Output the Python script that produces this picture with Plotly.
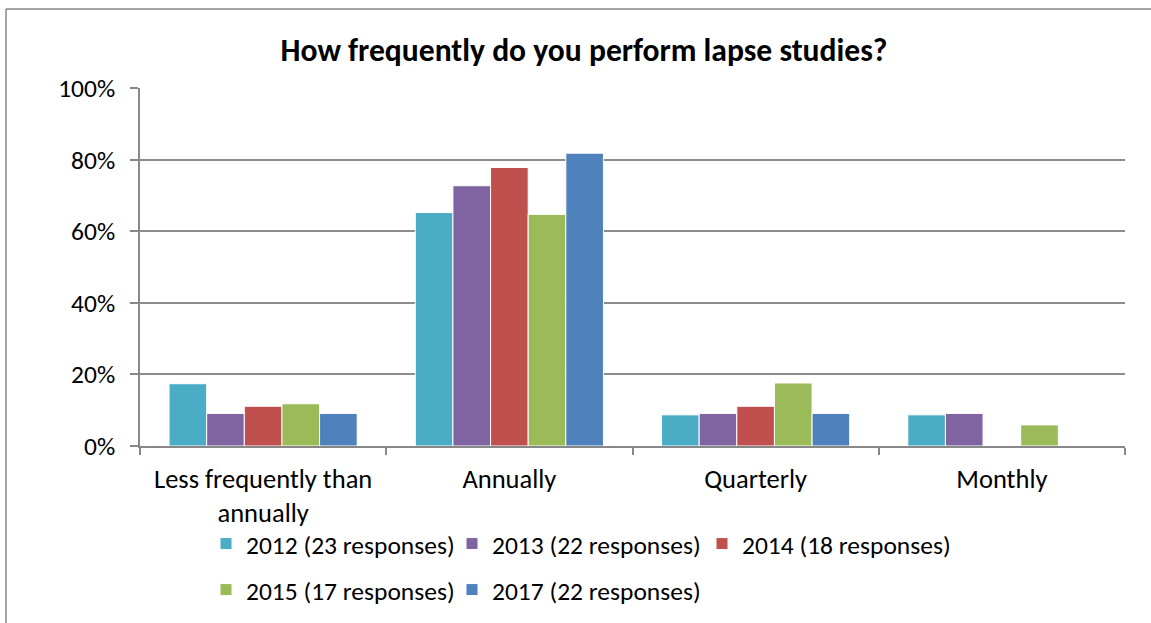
import plotly.graph_objects as go

categories = ["Less frequently than<br>annually", "Annually", "Quarterly", "Monthly"]
series_names = ["2012 (23 responses)", "2013 (22 responses)", "2014 (18 responses)",
                "2015 (17 responses)", "2017 (22 responses)"]
v2012 = [17.4, 65.2, 8.7, 8.7]
v2013 = [9.1, 72.7, 9.1, 9.1]
v2014 = [11.1, 77.8, 11.1, 0.0]
v2015 = [11.8, 64.7, 17.6, 5.9]
v2017 = [9.1, 81.8, 9.1, 0.0]
colors = ["#4BACC6", "#8064A2", "#C0504D", "#9BBB59", "#4F81BD"]
y_ticks = [0, 20, 40, 60, 80, 100]
y_tick_labels = ["0%", "20%", "40%", "60%", "80%", "100%"]

FONT = "Carlito, Calibri, Lato, sans-serif"
W, H = 1151, 623
L, R, T, B = 140, 26, 88, 177

pw = W - L - R
ph = H - T - B
def px2x(px):
    return (px - L) / pw
def py2y(py):
    return (H - B - py) / ph

# legend box left (px) and row centre (px) for each series
legend_pos = [(206, 544), (452, 544), (702, 544), (206, 590), (452, 590)]

fig = go.Figure()
all_vals = [v2012, v2013, v2014, v2015, v2017]
legend_ids = ["legend", "legend2", "legend3", "legend4", "legend5"]
for i, (name, vals, c) in enumerate(zip(series_names, all_vals, colors)):
    fig.add_trace(go.Bar(
        x=categories, y=vals, name=name,
        marker=dict(color=c, line=dict(color="white", width=1)),
        legend=legend_ids[i],
    ))

legend_layouts = {}
for lid, (lx, ly) in zip(legend_ids, legend_pos):
    legend_layouts[lid] = dict(
        orientation="h", x=px2x(lx), y=py2y(ly), xanchor="left", yanchor="middle",
        itemwidth=30, font=dict(family=FONT, size=25.5), bgcolor="rgba(0,0,0,0)")

fig.update_layout(
    width=W, height=H,
    margin=dict(l=L, r=R, t=T, b=B, autoexpand=False),
    paper_bgcolor="white", plot_bgcolor="white",
    font=dict(family=FONT, size=25, color="black"),
    title=dict(text="<b>How frequently do you perform lapse studies?</b>",
               x=(278 + 890) / 2 / W, xref="container", xanchor="center",
               y=1 - 50 / H, yref="container", yanchor="middle",
               font=dict(family=FONT, size=31.6, color="black")),
    barmode="group", bargap=0.236, bargroupgap=0,
    xaxis=dict(showline=True, linecolor="#888888", linewidth=1.5,
               ticks="outside", ticklen=7, tickcolor="#888888", tickwidth=1.5,
               tickson="boundaries", showgrid=False, automargin=False,
               tickfont=dict(family=FONT, size=26.5),
               ticklabelstandoff=8),
    yaxis=dict(range=[0, 100], tickvals=y_ticks, ticktext=y_tick_labels,
               showline=True, linecolor="#888888", linewidth=1.5,
               ticks="outside", ticklen=8, tickcolor="#888888", tickwidth=1.5,
               showgrid=True, gridcolor="#8c8c8c", gridwidth=1.5, automargin=False,
               zeroline=False, tickfont=dict(family=FONT, size=25.5),
               ticklabelstandoff=10),
    showlegend=True,
    **legend_layouts,
)

fig.add_shape(type="line", xref="paper", yref="paper",
              x0=px2x(6), x1=px2x(6), y0=py2y(9), y1=py2y(640),
              line=dict(color="#888888", width=1.5))
fig.add_shape(type="line", xref="paper", yref="paper",
              x0=px2x(6), x1=px2x(1160), y0=py2y(9), y1=py2y(9),
              line=dict(color="#888888", width=1.5))

fig.write_html("out.html", config={"displayModeBar": False},
               post_script="document.body.style.margin='0';document.body.style.overflow='hidden';")
